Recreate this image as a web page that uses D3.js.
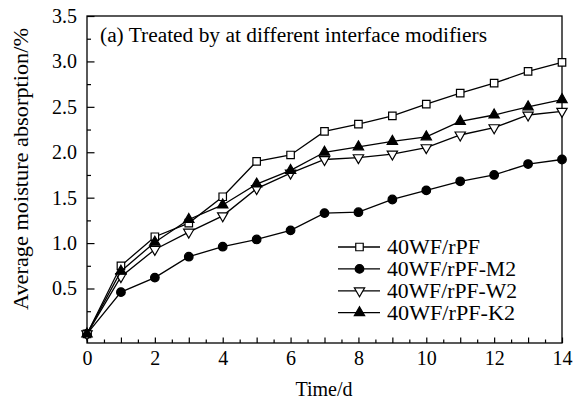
<!DOCTYPE html>
<html>
<head>
<meta charset="utf-8">
<script src="https://cdn.jsdelivr.net/npm/d3@7"></script>
<style>
  body { margin: 0; background: #fff; }
  text { font-family: "Liberation Serif", "Times New Roman", serif; fill: #000; }
</style>
</head>
<body>
<div id="canvas"></div>
<script>
// days
var days = [0, 1, 2, 3, 4, 5, 6, 7, 8, 9, 10, 11, 12, 13, 14];

// moisture absorption (%)
var rPF   = [0, 0.75, 1.07, 1.22, 1.51, 1.90, 1.97, 2.23, 2.31, 2.40, 2.53, 2.65, 2.76, 2.89, 2.99];
var rPFM2 = [0, 0.46, 0.62, 0.85, 0.96, 1.04, 1.14, 1.33, 1.34, 1.48, 1.58, 1.68, 1.75, 1.87, 1.92];
var rPFW2 = [0, 0.63, 0.93, 1.12, 1.30, 1.60, 1.77, 1.92, 1.94, 1.98, 2.05, 2.19, 2.27, 2.41, 2.45];
var rPFK2 = [0, 0.69, 1.01, 1.26, 1.42, 1.65, 1.80, 2.00, 2.06, 2.12, 2.17, 2.34, 2.41, 2.50, 2.58];

var seriesNames = ["40WF/rPF", "40WF/rPF-M2", "40WF/rPF-W2", "40WF/rPF-K2"];
var markers = ["square", "circle", "tridown", "triup"];

var xTicks = [0, 2, 4, 6, 8, 10, 12, 14];
var yTicks = [0.5, 1.0, 1.5, 2.0, 2.5, 3.0, 3.5];

var title = "(a) Treated by at different interface modifiers";
var xLabel = "Time/d";
var yLabel = "Average moisture absorption/%";

var W = 586, H = 403;
var margin = {top: 16, right: 24, bottom: 60, left: 87};
var width = W - margin.left - margin.right,
    height = H - margin.top - margin.bottom;

var svg = d3.select("#canvas").append("svg")
    .attr("width", W).attr("height", H);

var g = svg.append("g")
    .attr("transform", "translate(" + margin.left + "," + margin.top + ")");

var x = d3.scaleLinear().domain([0, 14]).range([0, width]);
var y = d3.scaleLinear().domain([-0.1, 3.5]).range([height, 0]);

// frame
g.append("rect")
    .attr("width", width).attr("height", height)
    .attr("fill", "none").attr("stroke", "#000").attr("stroke-width", 1.3);

// minor ticks
var xMinor = d3.range(0.5, 14, 0.5).filter(function(d){ return d % 1 !== 0; });
var xMid = d3.range(1, 14, 2);
var yMinor = d3.range(0.25, 3.5, 0.5);

function styleAxis(sel){
  sel.select(".domain").remove();
  sel.selectAll("line").attr("stroke", "#000").attr("stroke-width", 1.2);
  sel.selectAll("text").style("font-size", "20px")
    .style("font-family", '"Liberation Serif", serif');
}

g.append("g").attr("transform", "translate(0," + height + ")")
  .call(d3.axisBottom(x).tickValues(xMinor).tickSize(-3.5).tickFormat(""))
  .call(styleAxis);
g.append("g").attr("transform", "translate(0," + height + ")")
  .call(d3.axisBottom(x).tickValues(xMid).tickSize(-5.5).tickFormat(""))
  .call(styleAxis);
g.append("g").attr("transform", "translate(0," + height + ")")
  .call(d3.axisBottom(x).tickValues(xTicks).tickSize(-5.5).tickPadding(8)
    .tickFormat(d3.format("d")))
  .call(styleAxis);

g.append("g")
  .call(d3.axisLeft(y).tickValues(yMinor).tickSize(-4).tickFormat(""))
  .call(styleAxis);
g.append("g")
  .call(d3.axisLeft(y).tickValues(yTicks).tickSize(-7.5).tickPadding(10)
    .tickFormat(d3.format(".1f")))
  .call(styleAxis);

// axis titles
svg.append("text")
    .attr("x", 324).attr("y", 396)
    .attr("text-anchor", "middle")
    .style("font-size", "20px")
    .text(xLabel);

svg.append("text")
    .attr("transform", "translate(28,169) rotate(-90)")
    .attr("text-anchor", "middle")
    .style("font-size", "20px")
    .attr("textLength", 282).attr("lengthAdjust", "spacingAndGlyphs")
    .text(yLabel);

// panel title
g.append("text")
    .attr("x", 13).attr("y", 26)
    .style("font-size", "20px")
    .attr("textLength", 387).attr("lengthAdjust", "spacingAndGlyphs")
    .text(title);

// symbol path for each marker type
function markerPath(type){
  if (type === "square") return d3.symbol().type(d3.symbolSquare).size(56)();
  if (type === "circle") return d3.symbol().type(d3.symbolCircle).size(58)();
  return d3.symbol().type(d3.symbolTriangle).size(46)();
}
function markerFill(type){
  return (type === "square" || type === "tridown") ? "#fff" : "#000";
}
function markerRot(type){
  return type === "tridown" ? " rotate(180)" : "";
}

var allValues = [rPF, rPFM2, rPFW2, rPFK2];
var line = d3.line()
    .x(function(d){ return x(d.x); })
    .y(function(d){ return y(d.y); });

allValues.forEach(function(vals, i){
  var pts = days.map(function(d, j){ return {x: d, y: vals[j]}; });
  g.append("path").datum(pts)
    .attr("d", line)
    .attr("fill", "none").attr("stroke", "#000").attr("stroke-width", 1.3);
  g.selectAll(".m" + i).data(pts).enter().append("path")
    .attr("class", "m" + i)
    .attr("d", markerPath(markers[i]))
    .attr("transform", function(d){
      return "translate(" + x(d.x) + "," + y(d.y) + ")" + markerRot(markers[i]);
    })
    .attr("fill", markerFill(markers[i]))
    .attr("stroke", "#000").attr("stroke-width", 1.2);
});

// legend
var legend = svg.append("g").attr("transform", "translate(338,247)");
var legW = [93, 129, 130, 128];
seriesNames.forEach(function(name, i){
  var row = legend.append("g").attr("transform", "translate(0," + (i * 21.9) + ")");
  row.append("line").attr("x1", 0).attr("x2", 42).attr("y1", 0).attr("y2", 0)
    .attr("stroke", "#000").attr("stroke-width", 1.3);
  row.append("path")
    .attr("d", markerPath(markers[i]))
    .attr("transform", "translate(21.5,0)" + markerRot(markers[i]))
    .attr("fill", markerFill(markers[i]))
    .attr("stroke", "#000").attr("stroke-width", 1.2);
  row.append("text")
    .attr("x", 49).attr("y", 7)
    .style("font-size", "20px")
    .attr("textLength", legW[i]).attr("lengthAdjust", "spacingAndGlyphs")
    .text(name);
});
</script>
</body>
</html>
